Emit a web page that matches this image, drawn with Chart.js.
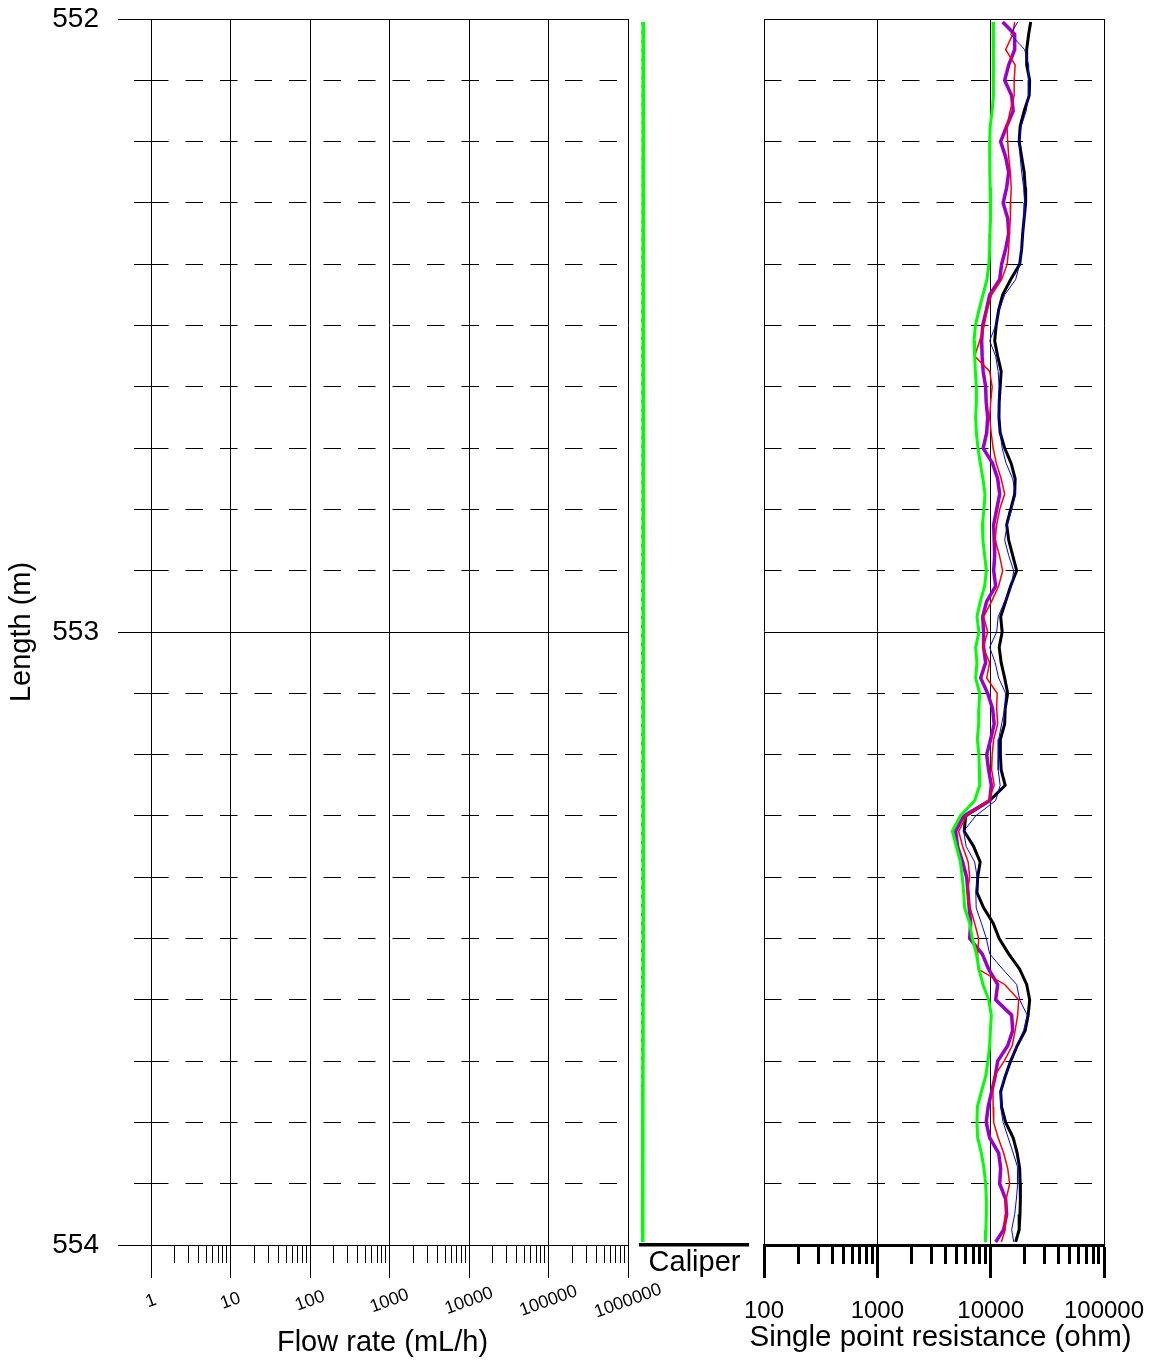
<!DOCTYPE html>
<html>
<head>
<meta charset="utf-8">
<title>Borehole log 552–554 m</title>
<script src="https://cdn.jsdelivr.net/npm/chart.js@4.4.1/dist/chart.umd.min.js"></script>
<style>
  html, body { margin: 0; padding: 0; background: #fff; }
  #wrap { position: relative; width: 1151px; height: 1363px; }
  #wrap canvas { position: absolute; left: 0; top: 0; }
</style>
</head>
<body>
<div id="wrap">
  <canvas id="flow" width="1151" height="1363"></canvas>
  <canvas id="caliper" width="1151" height="1363"></canvas>
  <canvas id="spr" width="1151" height="1363"></canvas>
</div>
<script>
// ---- Axis definitions ----
const depthMin = 552;
const depthMax = 554;
const depthLabels = [552, 553, 554];
const depthGridStep = 0.1;

const flowDecades = [1, 10, 100, 1000, 10000, 100000, 1000000];
const flowTickLabels = ['1', '10', '100', '1000', '10000', '100000', '1000000'];

const sprDecades = [100, 1000, 10000, 100000];
const sprTickLabels = ['100', '1000', '10000', '100000'];

// ---- Single point resistance (ohm) sampled along the borehole length (m) ----
const depth = [552.005,552.025,552.05,552.075,552.1,552.125,552.15,552.175,552.2,552.225,
  552.25,552.275,552.3,552.325,552.35,552.375,552.4,552.425,552.45,552.475,
  552.5,552.525,552.55,552.575,552.6,552.625,552.65,552.675,552.7,552.725,
  552.75,552.775,552.8,552.825,552.85,552.875,552.9,552.925,552.95,552.975,
  553.0,553.025,553.05,553.075,553.1,553.125,553.15,553.175,553.2,553.225,
  553.25,553.275,553.3,553.325,553.35,553.375,553.4,553.425,553.45,553.475,
  553.5,553.525,553.55,553.575,553.6,553.625,553.65,553.675,553.7,553.725,
  553.75,553.775,553.8,553.825,553.85,553.875,553.9,553.925,553.95,553.975,
  553.995];

const sprGreen = [10500,10600,10600,10600,10600,10500,10300,9900,9800,9800,
  9850,9900,10000,9950,9850,9800,9650,9270,8550,7880,
  7330,7130,7230,7330,7480,7480,7370,7480,7730,8110,
  8550,8910,8730,8450,8550,8850,9160,8850,8110,7570,
  7880,7370,7570,7370,8000,7880,7840,7630,7880,7950,
  8000,7230,5400,4590,4980,5400,5620,5780,5900,6530,
  6890,7480,7880,8550,9600,10140,9940,9800,9470,9030,
  8280,7630,7570,7680,8280,8730,9030,9160,9160,9090,
  8980];

const sprPurple = [12760,16290,16290,14420,13290,15320,15800,13840,12250,13560,
  14420,13840,12890,14130,14420,13560,12500,12010,9800,9160,
  8500,8330,8410,8590,9030,9130,9410,9220,8590,10400,
  11530,12010,11300,10630,10740,10850,10630,11070,9220,8500,
  8670,8670,9030,8160,9410,10400,10740,10000,9220,9600,
  10140,9800,5780,4910,5110,5660,6140,6310,6460,6660,
  6530,8420,9600,11530,11070,15320,15640,14130,11530,10960,
  10200,9500,9130,9800,11760,12250,12010,13560,13840,13020,
  11070];

const sprRed = [16290,15640,13560,16450,16120,16120,14860,13930,14130,14420,
  14920,15170,15010,14920,14620,14420,13980,12500,10200,9310,
  8760,8000,7220,9800,10310,10000,9800,10100,10520,11230,
  12380,13290,12010,11300,10960,11960,12760,11760,10200,8670,
  9410,8590,9800,9220,11410,11300,11530,10630,10310,10200,
  10740,9600,6140,5220,5660,6330,6530,6200,6590,7220,
  7840,7680,7760,13290,17660,17310,16450,15480,13160,10740,
  10470,10520,10630,11650,13020,14130,14710,13700,13560,13430,
  12430];

const sprBlue = [17310,15010,19950,21640,21430,21640,20570,18580,17840,18210,
  18770,19550,19950,19750,19270,18770,18030,16620,13290,11890,
  11070,9800,11070,11650,11890,11760,11760,12130,12630,13700,
  15640,16620,15320,13980,13290,14420,15960,15320,13290,11650,
  11300,9800,10960,11760,13560,13290,12500,11760,11650,11650,
  12130,11070,7370,5780,6080,7220,7600,7400,7450,8280,
  9160,9800,12760,16960,18030,21000,19550,16960,15010,13290,
  12250,12250,12890,14270,15800,17420,17310,16860,16290,15320,
  15960];

const sprBlack = [22540,21640,20780,20780,22090,21870,19750,18210,17840,18770,
  19750,20160,20360,19750,19160,18770,18030,15010,12760,11760,
  11180,10850,11530,12380,12130,11890,11830,12130,13290,15170,
  16450,16290,15010,13840,14420,15640,16960,15010,13560,12250,
  12630,11890,12380,13290,14130,13430,13290,12180,12180,12380,
  13430,9800,6020,5840,7080,8080,7680,7570,8670,10520,
  11890,14420,18030,20780,22090,21430,20160,17130,15010,13430,
  12250,12500,13560,15800,17130,18030,18210,18290,18140,17840,
  16620];

// ---- Caliper (mm) ----
const caliperDepth = [552.005, 552.25, 552.5, 552.75, 553.0, 553.25, 553.5, 553.75, 553.995];
const caliperValue = [56.0, 56.0, 55.95, 55.95, 55.9, 55.9, 55.85, 55.8, 55.75];
const caliperTrace = [55.7, 55.75, 55.65, 55.7, 55.6, 55.65, 55.6, 55.5, 55.5];

// ---- Helpers ----
const W = 1151, H = 1363;
const FONT = "'Liberation Sans', Arial, Helvetica, sans-serif";
Chart.defaults.font.family = FONT;
Chart.defaults.color = '#000';

const isWhole = v => Math.abs(v - Math.round(v)) < 1e-6;
const isDecade = v => Math.abs(Math.log10(v) - Math.round(Math.log10(v))) < 1e-9;

function depthTicks() {
  const ticks = [];
  const n = Math.round((depthMax - depthMin) / depthGridStep);
  for (let i = 0; i <= n; i++) {
    ticks.push({ value: Math.round((depthMin + i * depthGridStep) * 1000) / 1000 });
  }
  return ticks;
}

function logTicks(decades) {
  const ticks = [];
  decades.forEach((d, i) => {
    ticks.push({ value: d, major: true });
    if (i < decades.length - 1) {
      for (let k = 2; k <= 9; k++) ticks.push({ value: d * k });
    }
  });
  return ticks;
}

// keep every panel's plot area exactly where the axes put it
function noOverflow(s) {
  s.paddingLeft = 0; s.paddingRight = 0; s.paddingTop = 0; s.paddingBottom = 0;
}

const minorTick = ctx => ctx.tick && !isWhole(ctx.tick.value);
const minorLogTick = ctx => ctx.tick && !isDecade(ctx.tick.value);

function depthAxis(o) {
  return {
    type: 'linear',
    reverse: true,
    min: depthMin,
    max: depthMax,
    afterBuildTicks: s => { s.ticks = depthTicks(); },
    afterFit: s => { s.width = o.width; noOverflow(s); },
    grid: {
      color: '#000',
      lineWidth: 1,
      drawTicks: o.tickLength > 0,
      tickLength: o.tickLength,
      tickColor: '#000',
      tickWidth: 1,
      // short tick next to the plot for the 0.1 m lines, full length for whole metres
      tickBorderDash: ctx => minorTick(ctx) ? [0, o.tickLength - 17, 17, 100] : []
    },
    border: {
      display: false,
      dash: ctx => minorTick(ctx) ? [17.5, 17] : []
    },
    ticks: {
      display: o.labels,
      autoSkip: false,
      padding: 19,
      font: { size: 28 },
      color: '#000',
      callback: v => (isWhole(v) && depthLabels.includes(Math.round(v))) ? String(Math.round(v)) : ''
    },
    title: o.title ? {
      display: true,
      text: o.title,
      font: { size: 29 },
      color: '#000',
      padding: { top: 5, bottom: 0 }
    } : { display: false }
  };
}

const baseOptions = {
  responsive: false,
  animation: false,
  events: [],
  plugins: { legend: { display: false }, tooltip: { enabled: false } }
};

// ---- Flow rate panel (no flow recorded in this interval) ----
const flowText = {
  id: 'flowText',
  afterDraw(chart) {
    const { ctx } = chart;
    const sx = chart.scales.x;
    ctx.save();
    ctx.fillStyle = '#000';
    ctx.textAlign = 'center';
    ctx.textBaseline = 'middle';
    ctx.font = '18px ' + FONT;
    flowDecades.forEach((v, i) => {
      const x = sx.getPixelForValue(v);
      ctx.save();
      ctx.translate(x, sx.bottom - 62);
      ctx.rotate(-20 * Math.PI / 180);
      ctx.fillText(flowTickLabels[i], 0, 0);
      ctx.restore();
    });
    ctx.font = '29px ' + FONT;
    ctx.fillText('Flow rate (mL/h)', (sx.left + sx.right) / 2 - 7, sx.bottom - 20);
    ctx.restore();
  }
};

new Chart(document.getElementById('flow'), {
  type: 'scatter',
  data: { datasets: [] },
  options: Object.assign({}, baseOptions, {
    layout: { padding: { left: 0, top: 19, right: W - 628, bottom: 0 } },
    scales: {
      x: {
        type: 'logarithmic',
        position: 'bottom',
        min: flowDecades[0],
        max: flowDecades[flowDecades.length - 1],
        afterBuildTicks: s => { s.ticks = logTicks(flowDecades); },
        afterFit: s => { s.height = H - 1245; noOverflow(s); },
        grid: {
          color: ctx => minorLogTick(ctx) ? 'rgba(0,0,0,0)' : '#000',
          lineWidth: 1,
          tickLength: 33,
          tickColor: '#000',
          tickWidth: 1,
          tickBorderDash: ctx => minorLogTick(ctx) ? [17, 60] : []
        },
        border: { display: true, color: '#000', width: 1 },
        ticks: { display: false, autoSkip: false, minRotation: 0, maxRotation: 0 }
      },
      y: depthAxis({ width: 151, tickLength: 33, labels: true, title: 'Length (m)' })
    }
  }),
  plugins: [flowText]
});

// ---- Caliper panel ----
new Chart(document.getElementById('caliper'), {
  type: 'scatter',
  data: {
    datasets: [
      {
        label: 'Caliper',
        data: caliperDepth.map((d, i) => ({ x: caliperValue[i], y: d })),
        showLine: true, borderColor: '#00ff00', borderWidth: 3.5, pointRadius: 0, fill: false
      },
      {
        label: 'Caliper raw',
        data: caliperDepth.map((d, i) => ({ x: caliperTrace[i], y: d })),
        showLine: true, borderColor: '#000', borderWidth: 2, borderDash: [3, 6], pointRadius: 0, fill: false
      }
    ]
  },
  options: Object.assign({}, baseOptions, {
    layout: { padding: { left: 641, top: 19, right: W - 748, bottom: 0 } },
    scales: {
      x: {
        type: 'linear', min: 55, max: 100,
        afterFit: s => { s.height = H - 1245; noOverflow(s); },
        grid: { display: false },
        border: { display: true, color: '#000', width: 3.5 },
        ticks: { display: false },
        title: { display: true, text: 'Caliper', font: { size: 29 }, color: '#000', padding: { top: 0, bottom: 83 } }
      },
      y: { type: 'linear', reverse: true, min: depthMin, max: depthMax, display: false }
    }
  })
});

// ---- Single point resistance panel ----
const sprText = {
  id: 'sprText',
  afterDraw(chart) {
    const { ctx } = chart;
    const sx = chart.scales.x;
    ctx.save();
    ctx.fillStyle = '#000';
    ctx.textAlign = 'center';
    ctx.textBaseline = 'middle';
    ctx.font = '29.5px ' + FONT;
    ctx.fillText('Single point resistance (ohm)', (sx.left + sx.right) / 2 + 6.5, sx.bottom - 25);
    ctx.restore();
  }
};

const sprLine = (label, values, color, width) => ({
  label,
  data: depth.map((d, i) => ({ x: values[i], y: d })),
  showLine: true,
  borderColor: color,
  borderWidth: width,
  pointRadius: 0,
  fill: false,
  tension: 0
});

new Chart(document.getElementById('spr'), {
  type: 'scatter',
  data: {
    datasets: [
      sprLine('Green', sprGreen, '#00ff00', 3),
      sprLine('Blue', sprBlue, '#0000ff', 1),
      sprLine('Red', sprRed, '#ff0000', 1.5),
      sprLine('Purple', sprPurple, '#9900cc', 3.5),
      sprLine('Black', sprBlack, '#000000', 3)
    ]
  },
  options: Object.assign({}, baseOptions, {
    layout: { padding: { left: 764, top: 19, right: W - 1104, bottom: 0 } },
    scales: {
      x: {
        type: 'logarithmic',
        position: 'bottom',
        min: sprDecades[0],
        max: sprDecades[sprDecades.length - 1],
        afterBuildTicks: s => { s.ticks = logTicks(sprDecades); },
        afterFit: s => { s.height = H - 1245; noOverflow(s); },
        grid: {
          color: ctx => minorLogTick(ctx) ? 'rgba(0,0,0,0)' : '#000',
          lineWidth: 1,
          tickLength: 33,
          tickColor: '#000',
          tickWidth: 3,
          tickBorderDash: ctx => minorLogTick(ctx) ? [17, 60] : []
        },
        border: { display: true, color: '#000', width: 3 },
        ticks: {
          autoSkip: false, minRotation: 0, maxRotation: 0, padding: 19,
          font: { size: 24 }, color: '#000',
          callback: v => isDecade(v) ? sprTickLabels[sprDecades.indexOf(Math.round(v))] : ''
        }
      },
      y: depthAxis({ width: 0, tickLength: 0, labels: false })
    }
  }),
  plugins: [sprText]
});
</script>
</body>
</html>
